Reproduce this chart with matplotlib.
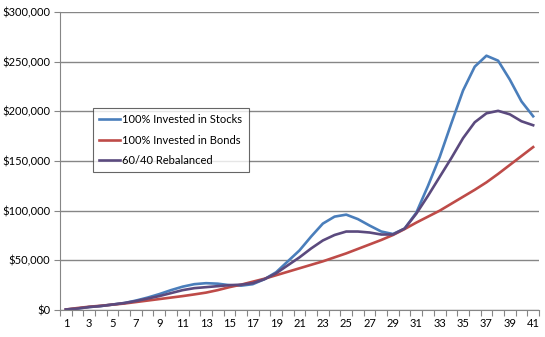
import matplotlib
matplotlib.use("Agg")
import matplotlib.pyplot as plt
from matplotlib.ticker import FuncFormatter, FixedLocator

periods = list(range(1, 42))
stocks = [500, 1500, 3000, 4000, 5500, 7000, 9500, 12500, 16000, 20000,
          23500, 26000, 27000, 26500, 25000, 24500, 26000, 31000, 38000, 49000,
          60000, 74000, 87000, 94000, 96000, 91500, 85000, 79000, 76500, 82000,
          98000, 125000, 154000, 188000, 221000, 245000, 256000, 251000, 232000, 210000,
          195000]
bonds = [500, 2000, 3300, 4300, 5400, 6500, 8000, 9500, 11000, 12500,
         14000, 15700, 17500, 20000, 23000, 25500, 28500, 31500, 35000, 38500,
         42000, 45500, 49000, 53000, 57000, 61500, 66000, 70500, 75500, 81500,
         88000, 94000, 100000, 107000, 114000, 121000, 128500, 137000, 146000, 155000,
         164000]
rebalanced = [500, 1500, 3000, 4000, 5500, 7000, 9000, 11500, 14000, 17000,
              20000, 22000, 23000, 24000, 25000, 25500, 27000, 31000, 37000, 45000,
              53000, 62000, 70000, 75500, 79000, 79000, 78000, 76000, 76000, 82000,
              97000, 115000, 134000, 153000, 173000, 189000, 198000, 200500, 197000, 190000,
              186000]

plt.rcParams["font.family"] = ["Lato", "DejaVu Sans"]

fig = plt.figure(figsize=(5.45, 3.37), dpi=100)
ax = fig.add_axes([60 / 545, 27 / 337, 479 / 545, 298 / 337])

ax.plot(periods, stocks, color="#4A7EBB", lw=1.9, label="100% Invested in Stocks")
ax.plot(periods, bonds, color="#BE4B48", lw=1.9, label="100% Invested in Bonds")
ax.plot(periods, rebalanced, color="#5B4A7E", lw=1.9, label="60/40 Rebalanced")

ax.set_xlim(0.5, 41.5)
ax.set_ylim(0, 300000)
ax.set_yticks(range(0, 300001, 50000))
ax.yaxis.set_major_formatter(FuncFormatter(lambda v, p: "${:,.0f}".format(v)))
ax.grid(axis="y", color="#868686", lw=1)
ax.set_axisbelow(True)

ax.xaxis.set_major_locator(FixedLocator([i + 0.5 for i in range(0, 42)]))
ax.xaxis.set_major_formatter(FuncFormatter(lambda v, p: ""))
ax.xaxis.set_minor_locator(FixedLocator(list(range(1, 42, 2))))
ax.xaxis.set_minor_formatter(FuncFormatter(lambda v, p: "%d" % v))
ax.tick_params(axis="x", which="major", length=4, color="#868686", direction="out")
ax.tick_params(axis="x", which="minor", length=0, pad=6, labelsize=8)
ax.tick_params(axis="y", length=4, color="#868686", labelsize=8, pad=3)

for s in ["top", "right"]:
    ax.spines[s].set_visible(False)
for s in ["left", "bottom"]:
    ax.spines[s].set_color("#868686")

leg = ax.legend(loc="upper left", bbox_to_anchor=(33 / 479, 202 / 298), fontsize=8,
                frameon=True, fancybox=False, handlelength=1.9, handletextpad=0.2,
                labelspacing=0.85, borderpad=0.55, borderaxespad=0)
leg.get_frame().set_edgecolor("#404040")
leg.get_frame().set_linewidth(0.8)

fig.savefig("out.png", dpi=100)
